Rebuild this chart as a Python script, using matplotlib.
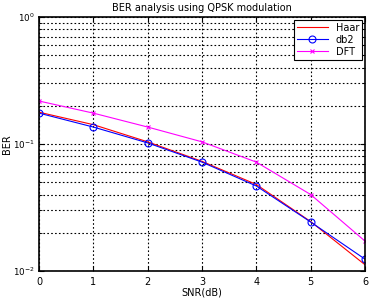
import matplotlib
matplotlib.use('Agg')
import matplotlib.pyplot as plt
import numpy as np

snr = [0, 1, 2, 3, 4, 5, 6]
ber_haar = [0.178, 0.142, 0.104, 0.073, 0.048, 0.0245, 0.0112]
ber_db2 = [0.175, 0.136, 0.102, 0.072, 0.0467, 0.0243, 0.0124]
ber_dft = [0.218, 0.175, 0.136, 0.104, 0.072, 0.040, 0.0172]

plt.rcParams['font.size'] = 7
fig = plt.figure(figsize=(3.74, 2.98), dpi=100)
ax = fig.add_axes([39/374, 27/298, 326/374, 254/298])

ax.semilogy(snr, ber_haar, color='#ff0000', lw=0.8, label='Haar')
ax.semilogy(snr, ber_db2, color='#0000ff', lw=0.8, marker='o', ms=5,
            mfc='none', mew=0.8, label='db2')
ax.semilogy(snr, ber_dft, color='#ff00ff', lw=0.8, marker='x', ms=3,
            mew=0.8, label='DFT')

ax.set_xlim(0, 6)
ax.set_ylim(1e-2, 1e0)
ax.set_xticks(snr)
ax.grid(True, which='both', color='black', ls=(0, (1.5, 2)), lw=0.8)
ax.tick_params(which='both', direction='in', top=True, right=True)
ax.tick_params(axis='x', pad=4)
ax.tick_params(axis='y', labelsize=6.3, pad=3)
for s in ax.spines.values():
    s.set_linewidth(1.2)

ax.set_title('BER analysis using QPSK modulation', fontsize=7, pad=4)
ax.set_xlabel('SNR(dB)', labelpad=1)
ax.set_ylabel('BER')
ax.yaxis.set_label_coords(-0.082, 0.5)

leg = ax.legend(loc='upper right', fancybox=False, framealpha=1,
                edgecolor='black', handlelength=3.2, borderaxespad=0.3,
                labelspacing=0.2, borderpad=0.3)
leg.get_frame().set_linewidth(0.8)

fig.savefig('out.png', dpi=100)
